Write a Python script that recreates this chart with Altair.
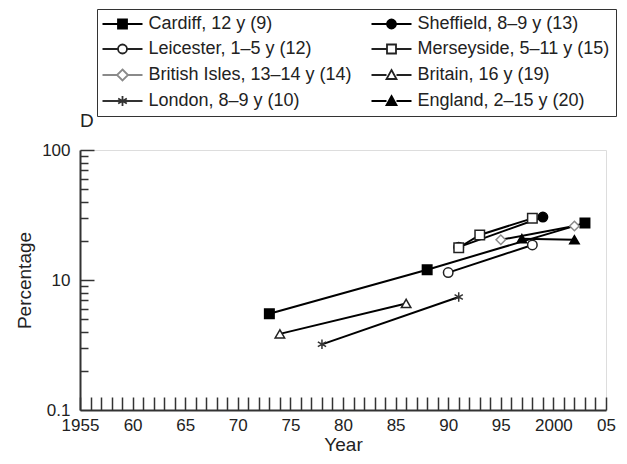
import altair as alt
import pandas as pd

# ---- data ----
# legend order: the legend fills column by column
series_names = [
    "Cardiff, 12 y (9)", "Leicester, 1–5 y (12)",
    "British Isles, 13–14 y (14)", "London, 8–9 y (10)",
    "Sheffield, 8–9 y (13)", "Merseyside, 5–11 y (15)",
    "Britain, 16 y (19)", "England, 2–15 y (20)",
]
cardiff_years = [1973, 1988, 2003]
cardiff_vals = [5.5, 12.0, 27.5]
leicester_years = [1990, 1998]
leicester_vals = [11.4, 18.6]
british_isles_years = [1995, 2002]
british_isles_vals = [20.4, 26.0]
london_years = [1978, 1991]
london_vals = [3.2, 7.4]
sheffield_years = [1991, 1999]
sheffield_vals = [17.9, 30.5]
merseyside_years = [1991, 1993, 1998]
merseyside_vals = [17.7, 22.2, 29.8]
britain_years = [1974, 1986]
britain_vals = [3.85, 6.6]
england_years = [1997, 2002]
england_vals = [20.8, 20.4]

x_tick_values = [1955, 1960, 1965, 1970, 1975, 1980, 1985, 1990, 1995, 2000, 2005]
x_tick_labels = ["1955", "60", "65", "70", "75", "80", "85", "90", "95", "2000", "05"]
x_minor_ticks = list(range(1955, 2006))
y_tick_values = [1, 10, 100]
y_tick_labels = ["0.1", "10", "100"]
y_minor_ticks = [2, 3, 4, 5, 6, 7, 8, 9, 10, 20, 30, 40, 50, 60, 70, 80, 90, 100]

all_years = [cardiff_years, leicester_years, british_isles_years, london_years,
             sheffield_years, merseyside_years, britain_years, england_years]
all_vals = [cardiff_vals, leicester_vals, british_isles_vals, london_vals,
            sheffield_vals, merseyside_vals, britain_vals, england_vals]
rows = []
for name, ys, vs in zip(series_names, all_years, all_vals):
    for y, v in zip(ys, vs):
        rows.append({"series": name, "year": y, "value": v})
df = pd.DataFrame(rows)

# ---- styles ----
FONT = "Liberation Sans"
TXT = "#222222"
ASTER = "M0,-1L0,1M-0.87,-0.5L0.87,0.5M-0.87,0.5L0.87,-0.5"
point_shapes = ["square", "circle", "diamond", ASTER,
                "circle", "square", "triangle-up", "triangle-up"]
fills = ["black", "white", "white", "black", "black", "white", "white", "black"]
strokes = ["black", "#222222", "#8a8a8a", "#333333", "black", "#222222", "#222222", "black"]

g = 0.9
side = f"M-4,0L-{g},0M{g},0L4,0"
sq = f"M-{g},-{g}L{g},-{g}L{g},{g}L-{g},{g}Z"
ci = f"M-{g},0A{g},{g},0,1,0,{g},0A{g},{g},0,1,0,-{g},0Z"
di = "M-4,0L-1.1,0M1.1,0L4,0M0,-1.1L1.1,0L0,1.1L-1.1,0Z"
tr = "M-4,0L-1,0M1,0L4,0M0,-1L1,0.8L-1,0.8Z"
ast = "M-4,0L4,0" + ASTER
legend_shapes = [side + sq, side + ci, di, ast, side + ci, side + sq, tr, tr]

xscale = alt.Scale(domain=[1955, 2005], nice=False, zero=False)
yscale = alt.Scale(type="log", domain=[1, 100], nice=False)

def label_expr(vals, labels):
    parts = [f"datum.value == {v} ? '{l}'" for v, l in zip(vals, labels)]
    return " : ".join(parts) + " : ''"

x_main_axis = alt.Axis(values=x_tick_values, labelExpr=label_expr(x_tick_values, x_tick_labels),
                       ticks=False, tickSize=0, labelPadding=7, labelFlush=False, labelOverlap=False,
                       grid=False, domainColor="#333333", domainWidth=2, title="Year",
                       titlePadding=2, titleFontSize=19, titleFontWeight="normal", titleFont=FONT,
                       titleColor=TXT, labelFont=FONT, labelFontSize=17, labelColor=TXT)
y_main_axis = alt.Axis(values=y_tick_values, labelExpr=label_expr(y_tick_values, y_tick_labels),
                       ticks=False, tickSize=0, labelPadding=10, labelFlush=False, labelOverlap=False,
                       grid=False, domainColor="#333333", domainWidth=2, title="Percentage",
                       titlePadding=7, titleFontSize=19, titleFontWeight="normal", titleFont=FONT,
                       titleColor=TXT, labelFont=FONT, labelFontSize=17, labelColor=TXT)

W, H = 526, 260

lines = alt.Chart(df).mark_line(color="black", strokeWidth=2).encode(
    x=alt.X("year:Q", scale=xscale, axis=x_main_axis),
    y=alt.Y("value:Q", scale=yscale, axis=y_main_axis),
    detail="series:N",
    order="year:Q",
)

points = alt.Chart(df).mark_point(opacity=1, strokeWidth=1.5, size=90).encode(
    x=alt.X("year:Q", scale=xscale, axis=None),
    y=alt.Y("value:Q", scale=yscale, axis=None),
    shape=alt.Shape("series:N", scale=alt.Scale(domain=series_names, range=point_shapes), legend=None),
    fill=alt.Fill("series:N", scale=alt.Scale(domain=series_names, range=fills), legend=None),
    stroke=alt.Stroke("series:N", scale=alt.Scale(domain=series_names, range=strokes), legend=None),
)

legend = alt.Legend(
    orient="none", legendX=17, legendY=-141, columns=2, columnPadding=15, rowPadding=7,
    padding=6, strokeColor="#333333", fillColor="white", symbolSize=100,
    symbolStrokeWidth=1.8, symbolOffset=10.5, labelOffset=17, labelFont=FONT,
    labelFontSize=18, labelColor=TXT, labelLimit=400, title=None,
)

guide_layer = alt.Chart(df).transform_filter("false").mark_point(opacity=1, strokeWidth=1.8).encode(
    x=alt.X("year:Q", scale=xscale,
            axis=alt.Axis(orient="top", offset=-H, values=x_minor_ticks, labels=False, domain=False,
                          ticks=True, tickSize=13, tickWidth=1.5, tickColor="#333333",
                          grid=False, title=None)),
    y=alt.Y("value:Q", scale=yscale,
            axis=alt.Axis(orient="right", offset=-W, values=y_minor_ticks, labels=False, domain=False,
                          ticks=True, tickWidth=1.5, tickColor="#333333", grid=False, title=None,
                          tickSize={"condition": {"test": "datum.value == 10 || datum.value == 100",
                                                  "value": 14}, "value": 8})),
    shape=alt.Shape("series:N", scale=alt.Scale(domain=series_names, range=legend_shapes),
                    legend=legend, title=None),
    fill=alt.Fill("series:N", scale=alt.Scale(domain=series_names, range=fills), title=None),
    stroke=alt.Stroke("series:N", scale=alt.Scale(domain=series_names, range=strokes), title=None),
)

chart = alt.layer(lines, points, guide_layer).resolve_scale(
    shape="independent", fill="independent", stroke="independent"
).resolve_axis(x="independent", y="independent").properties(
    width=W, height=H,
    autosize=alt.AutoSizeParams(type="none"),
    padding={"left": 72, "top": 142, "right": 13, "bottom": 46},
    title=alt.Title("D", anchor="start", frame="group", fontSize=19, fontWeight="normal",
                    font=FONT, color=TXT, offset=14, dy=136),
).configure_view(strokeWidth=0, strokeOpacity=0).configure(background="white")

chart.save("out.html", embed_options={"renderer": "svg", "actions": False})
